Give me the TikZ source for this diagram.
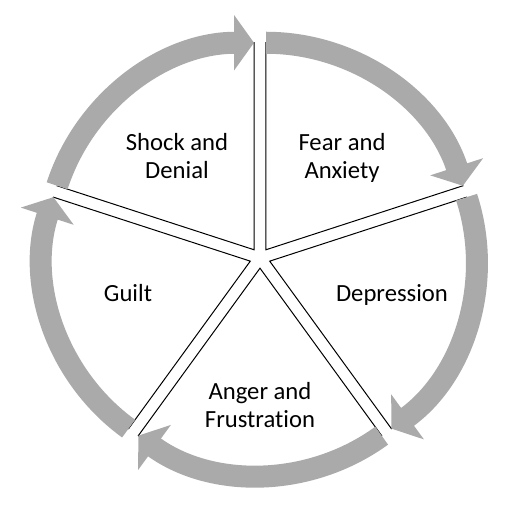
\documentclass[tikz,border=0pt]{standalone}
\usepackage{fontspec}
\setmainfont[Ligatures=NoCommon]{Carlito}
\usetikzlibrary{arrows.meta,calc}
\definecolor{bandgray}{RGB}{170,170,170}

\begin{document}
\begin{tikzpicture}[x=0.75pt,y=0.75pt]
        %
        % `sector' is used for the white pie slices.
        % `band' is used for the grey arrows round the circle.
        % `stage' is used for the texts in the slices.
        \tikzstyle{sector} = [draw=black,fill=white,line width=0.75pt]
        \tikzstyle{band} = [draw=bandgray,line width=16.5pt,-{Triangle[length=15pt,width=41pt]}]
        \tikzstyle{stage} = [align=center,font=\fontsize{18.5}{21}\selectfont]
        %
        \useasboundingbox (-260,-255) rectangle (253,258);
        %
        % Centres of the slices
        \coordinate (cshock) at (126:10.2);
        \coordinate (cfear) at (54:10.2);
        \coordinate (cdepr) at (-18:10.2);
        \coordinate (canger) at (-90:10.2);
        \coordinate (cguilt) at (198:10.2);
        %
        % Slices
        \draw[sector] (cshock) -- ++(162:207) arc[start angle=162,end angle=90,radius=207] -- cycle;
        \draw[sector] (cfear) -- ++(90:207) arc[start angle=90,end angle=18,radius=207] -- cycle;
        \draw[sector] (cdepr) -- ++(18:207) arc[start angle=18,end angle=-54,radius=207] -- cycle;
        \draw[sector] (canger) -- ++(-54:207) arc[start angle=-54,end angle=-126,radius=207] -- cycle;
        \draw[sector] (cguilt) -- ++(234:207) arc[start angle=234,end angle=162,radius=207] -- cycle;
        %
        % Arrows
        \draw[band] ($(cshock)+(162:207)$) arc[start angle=162,end angle=90,radius=207];
        \draw[band] ($(cfear)+(90:207)$) arc[start angle=90,end angle=18,radius=207];
        \draw[band] ($(cdepr)+(18:207)$) arc[start angle=18,end angle=-54,radius=207];
        \draw[band] ($(canger)+(-54:207)$) arc[start angle=-54,end angle=-126,radius=207];
        \draw[band] ($(cguilt)+(234:207)$) arc[start angle=234,end angle=162,radius=207];
        %
        % Texts
        \node[stage] (shock) at (-83,102) {Shock and\\Denial};
        \node[stage] (fear) at (82,100) {Fear and\\Anxiety};
        \node[stage] (depr) at (132,-37) {Depression};
        \node[stage] (anger) at (0,-147) {Anger and\\Frustration};
        \node[stage] (guilt) at (-132,-35) {Guilt};
        %
\end{tikzpicture}
\end{document}
